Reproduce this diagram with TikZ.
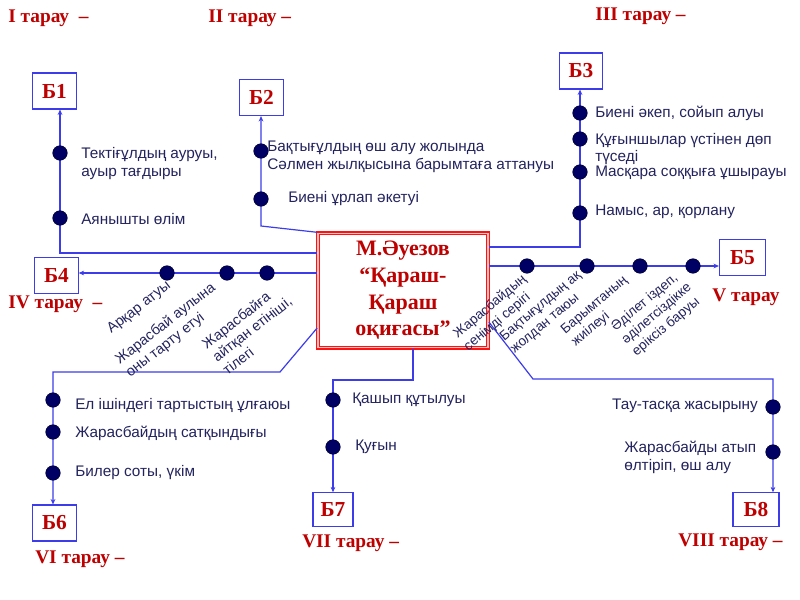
\documentclass[tikz,border=0pt]{standalone}
\usepackage{fontspec}
\setmainfont{Liberation Serif}
\newfontfamily\lsans{Liberation Sans}
\usetikzlibrary{arrows.meta}
\definecolor{lineblue}{RGB}{60,60,235}
\definecolor{dotnavy}{RGB}{0,0,100}
\definecolor{txtnavy}{RGB}{35,35,95}
\definecolor{darkred}{RGB}{190,0,0}
\definecolor{boxred}{RGB}{250,20,20}
\begin{document}
\begin{tikzpicture}[x=0.75pt,y=-0.75pt,
  conn/.style={draw=lineblue, line width=0.9pt},
  arr/.style={conn, -{Stealth[length=4pt,width=3.5pt]}},
  dot/.style={circle, fill=dotnavy, draw=black!70!dotnavy, line width=0.3pt, inner sep=0, minimum size=11pt},
  bbox/.style={draw=lineblue, line width=0.9pt, fill=white, font=\fontsize{16}{18}\selectfont\bfseries, text=darkred, minimum width=32.5pt, minimum height=27pt, inner sep=0},
  lbl/.style={font=\lsans\fontsize{11.5}{13.5}\selectfont, text=txtnavy, inner sep=0, align=left},
  rlbl/.style={lbl, anchor=north west, font=\lsans\fontsize{10.8}{12.6}\selectfont},
  rlblr/.style={lbl, anchor=north west, font=\lsans\fontsize{10.2}{12.2}\selectfont},
  ttl/.style={font=\fontsize{14.5}{17}\selectfont\bfseries, text=darkred, inner sep=0, anchor=west},
  cbox/.style={draw=boxred, line width=1.3pt, double=red!25, double distance=0.8pt, fill=white, minimum width=127.5pt, minimum height=86pt, inner sep=0, align=center, text=darkred, font=\fontsize{16.5}{20}\selectfont\bfseries}
]
\useasboundingbox (0,0) rectangle (800,600);
\fill[white] (0,0) rectangle (800,600);

% central box
\node[cbox] (c) at (403,290.5) {М.Әуезов\\“Қараш-\\Қараш\\оқиғасы”};

% chapter boxes
\node[bbox] (b1) at (54.5,91) {Б1};
\node[bbox] (b2) at (261.5,97.5) {Б2};
\node[bbox] (b3) at (581,71) {Б3};
\node[bbox] (b4) at (56.5,275.5) {Б4};
\node[bbox, minimum width=34.5pt] (b5) at (742.5,257.5) {Б5};
\node[bbox] (b6) at (54.5,523) {Б6};
\node[bbox, minimum width=30pt, minimum height=25pt] (b7) at (333,509.5) {Б7};
\node[bbox, minimum width=34.5pt, minimum height=25pt] (b8) at (756,509.5) {Б8};

% connector corners
\coordinate (k1) at (60,253);
\coordinate (k2) at (261,226);
\coordinate (k3) at (580,247);
\coordinate (k4) at (200,273);
\coordinate (k5) at (600,266);
\coordinate (k6a) at (318,328);
\coordinate (k6b) at (280,372);
\coordinate (k6c) at (53,372);
\coordinate (k7a) at (413,380);
\coordinate (k7b) at (333,380);
\coordinate (k8a) at (488,322);
\coordinate (k8b) at (533,379);
\coordinate (k8c) at (773,379);

% connectors
\draw[arr] (c.west |- k1) -- (k1) -- (b1.south -| k1);
\draw[arr] (c.north west) -- (k2) -- (b2.south -| k2);
\draw[arr] (c.east |- k3) -- (k3) -- (b3.south -| k3);
\draw[arr] (c.west |- k4) -- (b4.east |- k4);
\draw[arr] (c.east |- k5) -- (b5.west |- k5);
\draw[arr] (c.west |- k6a) -- (k6b) -- (k6c) -- (b6.north -| k6c);
\draw[arr] (c.south -| k7a) -- (k7a) -- (k7b) -- (b7.north -| k7b);
\draw[arr] (c.east |- k8a) -- (k8b) -- (k8c) -- (b8.north -| k8c);

% dots
\node[dot] (d11) at (60,153) {};
\node[dot] (d12) at (60,218) {};
\node[dot] (d21) at (261,151) {};
\node[dot] (d22) at (261,199) {};
\node[dot] (d31) at (580,113) {};
\node[dot] (d32) at (580,139) {};
\node[dot] (d33) at (580,172) {};
\node[dot] (d34) at (580,213) {};
\node[dot] (d41) at (167,273) {};
\node[dot] (d42) at (227,273) {};
\node[dot] (d43) at (267,273) {};
\node[dot] (d51) at (527,266) {};
\node[dot] (d52) at (587,266) {};
\node[dot] (d53) at (640,266) {};
\node[dot] (d54) at (693,266) {};
\node[dot] (d61) at (53,400) {};
\node[dot] (d62) at (53,432) {};
\node[dot] (d63) at (53,473) {};
\node[dot] (d71) at (333,400) {};
\node[dot] (d72) at (333,447) {};
\node[dot] (d81) at (773,407) {};
\node[dot] (d82) at (773,452) {};

% chapter titles
\node[ttl] (t1) at (8,18) {I тарау \ –};
\node[ttl] (t2) at (208,18) {II тарау –};
\node[ttl] (t3) at (595,16) {III тарау –};
\node[ttl] (t4) at (8,304) {IV тарау \ –};
\node[ttl] (t5) at (712,297) {V тарау};
\node[ttl] (t6) at (35,559) {VI тарау –};
\node[ttl] (t7) at (302,543) {VII тарау –};
\node[ttl] (t8) at (678,542) {VIII тарау –};

% labels
\node[lbl, anchor=west] (l11) at (81,164) {Тектіғұлдың ауруы,\\ауыр тағдыры};
\node[lbl, anchor=west] (l12) at (81,219) {Аянышты өлім};
\node[lbl, anchor=west] (l21) at (267,156.5) {Бақтығұлдың өш алу жолында\\Сәлмен жылқысына барымтаға аттануы};
\node[lbl, anchor=west] (l22) at (288,199) {Биені ұрлап әкетуі};
\node[lbl, anchor=west] (l31) at (595,113) {Биені әкеп, сойып алуы};
\node[lbl, anchor=west, font=\lsans\fontsize{11.5}{13}\selectfont] (l32) at (595,149) {Құғыншылар үстінен дөп\\түседі};
\node[lbl, anchor=west] (l33) at (595,173) {Масқара соққыға ұшырауы};
\node[lbl, anchor=west] (l34) at (595,212) {Намыс, ар, қорлану};
\node[lbl, anchor=west] (l61) at (75,406) {Ел ішіндегі тартыстың ұлғаюы};
\node[lbl, anchor=west] (l62) at (75,433) {Жарасбайдың сатқындығы};
\node[lbl, anchor=west] (l63) at (75,473) {Билер соты, үкім};
\node[lbl, anchor=west] (l71) at (352,400) {Қашып құтылуы};
\node[lbl, anchor=west] (l72) at (355,447) {Қуғын};
\node[lbl, anchor=east] (l81) at (758,406) {Тау-тасқа жасырыну};
\node[lbl, anchor=west] (l82) at (624,457) {Жарасбайды атып\\өлтіріп, өш алу};

% rotated labels (IV)
\node[rlbl, rotate=38] (l41) at (105,326) {Арқар атуы};
\node[rlbl, rotate=38] (l42) at (113,356) {Жарасбай аулына\\оны тарту етуі};
\node[rlbl, rotate=38] (l43) at (200,341) {Жарасбайға\\айтқан етініші,\\тілегі};

% rotated labels (V)
\node[rlblr, rotate=40] (l51) at (451,331) {Жарасбайдың\\сенімді серігі};
\node[rlblr, rotate=40] (l52) at (498,334) {Бақтығұлдың ақ\\жолдан таюы};
\node[rlblr, rotate=40] (l53) at (559,327) {Барымтаның\\жиілеуі};
\node[rlblr, rotate=40] (l54) at (609,324) {Әділет іздеп,\\әділетсіздікке\\еріксіз баруы};
\end{tikzpicture}
\end{document}
